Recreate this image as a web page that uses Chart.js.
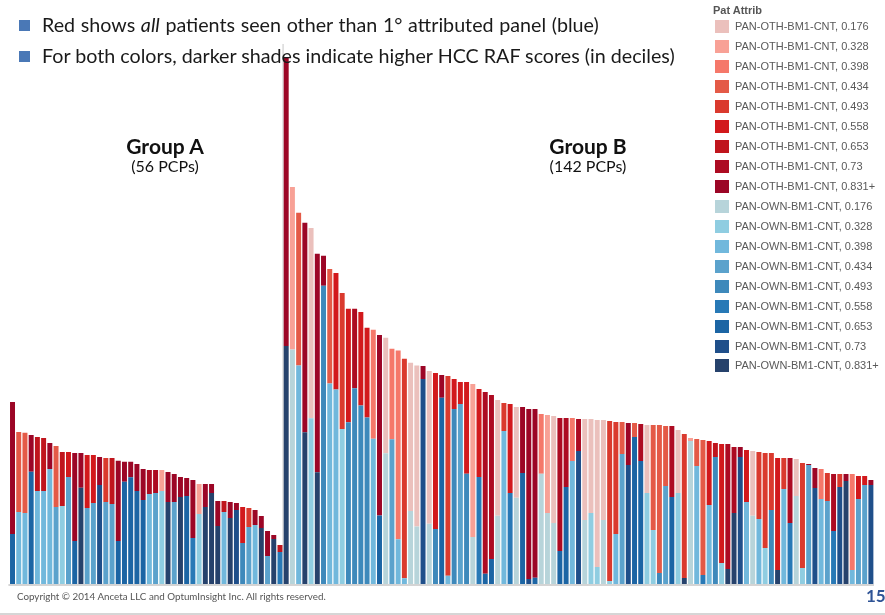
<!DOCTYPE html>
<html>
<head>
<meta charset="utf-8">
<script src="https://cdn.jsdelivr.net/npm/chart.js@4.4.1/dist/chart.umd.min.js"></script>
<style>
    body { margin: 0; background: #fff; }
    #wrap { position: relative; width: 885px; height: 615px; overflow: hidden; font-family: Lato, sans-serif; }
    #chart { position: absolute; left: 0; top: 0; }
    .sq { position: absolute; left: 19px; width: 11px; height: 11px; background: #4a78b6; }
    .bul { position: absolute; left: 42px; font-size: 19.7px; line-height: 1; color: #1a1a1a; white-space: nowrap; }
    .grp { position: absolute; width: 160px; text-align: center; color: #111; line-height: 1; white-space: nowrap; }
    .grp b { font-size: 21px; }
    .sub { font-size: 16px; }
    #legend { position: absolute; left: 713px; top: 0; font-family: "Liberation Sans", Arial, sans-serif; color: #595959; }
    #legend .ttl { position: absolute; left: 0; top: 4px; font-size: 11px; font-weight: bold; white-space: nowrap; color: #555; }
    #legend .row { position: absolute; left: 2px; height: 13px; display: flex; align-items: center; white-space: nowrap; font-size: 11px; line-height: 13px; }
    #legend .sw { width: 14px; height: 13px; margin-right: 6px; }
    #copy { position: absolute; left: 17px; top: 592px; font-size: 9.8px; line-height: 1; color: #555; white-space: nowrap; }
    #page { position: absolute; left: 866px; top: 587px; font-size: 17px; font-weight: bold; line-height: 1; color: #2f5496; }
    #rule { position: absolute; left: 0; top: 613px; width: 885px; height: 2px; background: #d6d6d6; }
</style>
</head>
<body>
<div id="wrap">
    <canvas id="chart" width="885" height="615"></canvas>
    <div class="sq" style="top:20px"></div>
    <div class="bul" style="top:15px;word-spacing:0.6px">Red shows <i>all</i> patients seen other than 1° attributed panel (blue)</div>
    <div class="sq" style="top:51px"></div>
    <div class="bul" style="top:46px">For both colors, darker shades indicate higher HCC RAF scores (in deciles)</div>
    <div class="grp" style="left:85px;top:135px"><b>Group A</b></div>
    <div class="grp sub" style="left:85px;top:158px">(56 PCPs)</div>
    <div class="grp" style="left:508px;top:135px"><b>Group B</b></div>
    <div class="grp sub" style="left:508px;top:158px">(142 PCPs)</div>
    <div id="legend"><div class="ttl">Pat Attrib</div></div>
    <div id="copy">Copyright © 2014 Anceta LLC and OptumInsight Inc. All rights reserved.</div>
    <div id="page">15</div>
    <div id="rule"></div>
</div>
<script>
// RAF decile cut points used for shading
var rafLabels = ["0.176", "0.328", "0.398", "0.434", "0.493", "0.558", "0.653", "0.73", "0.831+"];
var othColors = ["#ebc0bc", "#f8a196", "#f5786a", "#e45a47", "#da3a2e", "#d2191c", "#c0151d", "#ad0b22", "#9c0626"];
var ownColors = ["#b7d4da", "#8fcde1", "#71b8dc", "#5ba2cc", "#3e89bb", "#2879b6", "#1c65a4", "#1f4f8a", "#26426c"];

// Group A - own panel (blue) and other (red) patient counts per PCP, plus shade (decile index)
var groupAOwn = [50, 72, 71, 112.3, 93, 93, 115, 77, 78, 107, 43, 96.3, 76, 81, 99, 82, 80, 43, 102.3, 106.7, 93, 84,
    90, 91, 93, 82, 82, 87, 88, 46, 70, 77, 91, 58, 72, 66, 74, 41, 57, 59, 56, 28, 45, 32];
var groupAOwnShade = [6, 2, 2, 6, 2, 2, 2, 3, 1, 3, 6, 8, 3, 3, 7, 3, 3, 6, 6, 6, 6, 6,
    2, 3, 1, 8, 3, 8, 6, 5, 1, 8, 8, 8, 2, 8, 7, 4, 3, 2, 8, 3, 8, 5];
var groupAOth = [132, 80, 80.3, 36.7, 54, 53, 26, 61, 54, 25, 88, 34.7, 53, 48, 28, 44, 46, 80.3, 20, 15.6, 27, 31,
    24, 23, 21, 30, 28, 20, 18, 58, 30, 23, 9, 25, 11, 16, 7, 36, 19, 15, 12, 25, 4, 7];
var groupAOthShade = [8, 3, 3, 8, 6, 6, 8, 3, 6, 5, 8, 8, 5, 5, 8, 4, 6, 8, 8, 8, 8, 8,
    7, 7, 1, 8, 8, 8, 8, 8, 1, 8, 8, 8, 6, 8, 8, 5, 4, 8, 8, 8, 8, 6];

// Group B
var groupBOwn = [238, 234.6, 218.4, 151.7, 165.8, 111.8, 298.2, 200.6, 194.4, 155.1,
    161.7, 195.7, 178.5, 166.5, 145.2, 68.5, 130.7, 144.8, 44.7, 5.8,
    72.9, 57.4, 205, 60.3, 55, 186.3, 8.3, 175, 180, 110.3,
    47, 107, 10.3, 25, 68.3, 153, 91, 86.3, 111, 5,
    6.3, 110.3, 71, 61, 33, 97, 123, 133, 64, 71,
    17, 64, 3, 50, 130, 119, 147, 123, 91, 54,
    11, 98, 87, 91, 6, 143, 118, 9, 79, 127,
    21, 15, 71, 127, 82, 68.3, 65, 36, 74, 14,
    95, 61, 88, 16, 119, 96, 85, 83, 53, 97,
    103, 14, 85, 99, 99];
var groupBOwnShade = [8, 0, 2, 8, 1, 8, 4, 2, 2, 1,
    4, 4, 4, 4, 2, 6, 0, 3, 2, 2,
    0, 0, 7, 0, 4, 6, 2, 4, 3, 4,
    0, 5, 6, 6, 0, 2, 5, 0, 6, 7,
    6, 0, 0, 0, 6, 6, 2, 7, 0, 1,
    1, 0, 1, 2, 3, 7, 6, 6, 1, 1,
    4, 3, 6, 1, 8, 0, 2, 5, 2, 4,
    1, 8, 8, 7, 2, 0, 2, 1, 4, 8,
    2, 5, 0, 1, 3, 7, 2, 3, 5, 7,
    8, 2, 3, 3, 7];
var groupBOth = [289, 162.4, 152.8, 209.5, 190.2, 218.4, 30, 114.5, 116.6, 135.9,
    113.5, 79.5, 93.6, 89.8, 109, 180.6, 115.6, 90.5, 188.9, 219.5,
    148.3, 161, 13, 152.7, 156, 22.7, 199.7, 30, 22, 91.7,
    153, 88, 181.7, 164, 115.7, 28, 89, 90.7, 66, 170,
    168.7, 59.7, 98, 107, 133, 69, 43, 32, 101, 94,
    147, 100, 160, 112, 32, 42, 14, 37, 68, 105,
    148, 60, 71, 63, 144, 3, 27, 135, 64, 14,
    119, 125, 66, 10, 52, 64.7, 67, 95, 57, 112,
    31, 65, 37, 105, 1, 20, 30, 28, 57, 13,
    7, 96, 23, 9, 5];
var groupBOthShade = [8, 1, 3, 8, 0, 8, 8, 3, 5, 4,
    5, 7, 5, 5, 2, 8, 0, 2, 2, 4,
    0, 0, 8, 0, 5, 8, 4, 5, 5, 5,
    1, 5, 7, 7, 0, 4, 5, 0, 8, 8,
    8, 2, 1, 0, 7, 7, 2, 7, 0, 0,
    0, 0, 4, 4, 3, 8, 3, 7, 0, 3,
    3, 3, 7, 0, 4, 1, 3, 3, 5, 6,
    5, 7, 7, 8, 5, 0, 4, 4, 4, 5,
    4, 7, 0, 4, 8, 8, 2, 4, 7, 4,
    8, 2, 5, 5, 8];

var ownVals = groupAOwn.concat(groupBOwn);
var ownShade = groupAOwnShade.concat(groupBOwnShade);
var othVals = groupAOth.concat(groupBOth);
var othShade = groupAOthShade.concat(groupBOthShade);

var pcpLabels = [];
for (var i = 0; i < groupAOwn.length; i++) pcpLabels.push("A" + (i + 1));
for (var i = 0; i < groupBOwn.length; i++) pcpLabels.push("B" + (i + 1));

function pick(vals, shades, s) {
    return vals.map(function(v, i) { return shades[i] === s ? v : null; });
}

// blue sits at the bottom of each stack, red on top
var datasets = [];
for (var s = 0; s < 9; s++) {
    datasets.push({ label: "PAN-OWN-BM1-CNT, " + rafLabels[s], data: pick(ownVals, ownShade, s), backgroundColor: ownColors[s] });
}
for (var s = 0; s < 9; s++) {
    datasets.push({ label: "PAN-OTH-BM1-CNT, " + rafLabels[s], data: pick(othVals, othShade, s), backgroundColor: othColors[s] });
}

// baseline and pane divider between the two groups
var framePlugin = {
    id: "frame",
    beforeDatasetsDraw: function(chart) {
        var ctx = chart.ctx;
        var area = chart.chartArea;
        var x = chart.scales.x.getPixelForValue(groupAOwn.length - 0.5);
        ctx.save();
        ctx.strokeStyle = "#d4d4d4";
        ctx.lineWidth = 2;
        ctx.beginPath();
        ctx.moveTo(area.left - 1, area.bottom + 1);
        ctx.lineTo(area.right, area.bottom + 1);
        ctx.stroke();
        ctx.strokeStyle = "#d9d9d9";
        ctx.lineWidth = 1.5;
        ctx.beginPath();
        ctx.moveTo(x, 44);
        ctx.lineTo(x, area.bottom);
        ctx.stroke();
        ctx.restore();
    }
};

var ctx = document.getElementById("chart").getContext("2d");
var chart = new Chart(ctx, {
    type: "bar",
    data: { labels: pcpLabels, datasets: datasets },
    options: {
        responsive: false,
        animation: false,
        layout: { padding: { left: 9.4, right: 11, top: 40, bottom: 31 } },
        datasets: { bar: { barPercentage: 0.8, categoryPercentage: 1, borderWidth: 0 } },
        scales: {
            x: { stacked: true, display: false },
            y: { stacked: true, display: false, min: 0, max: 544 }
        },
        plugins: { legend: { display: false }, tooltip: { enabled: false } }
    },
    plugins: [framePlugin]
});

// legend: red (other) rows first, then blue (own)
var legend = document.getElementById("legend");
var rows = [];
for (var s = 0; s < 9; s++) rows.push(["PAN-OTH-BM1-CNT, " + rafLabels[s], othColors[s]]);
for (var s = 0; s < 9; s++) rows.push(["PAN-OWN-BM1-CNT, " + rafLabels[s], ownColors[s]]);
rows.forEach(function(r, i) {
    var row = document.createElement("div");
    row.className = "row";
    row.style.top = (20 + i * 19.97) + "px";
    row.innerHTML = '<span class="sw" style="background:' + r[1] + '"></span>' + r[0];
    legend.appendChild(row);
});
</script>
</body>
</html>
